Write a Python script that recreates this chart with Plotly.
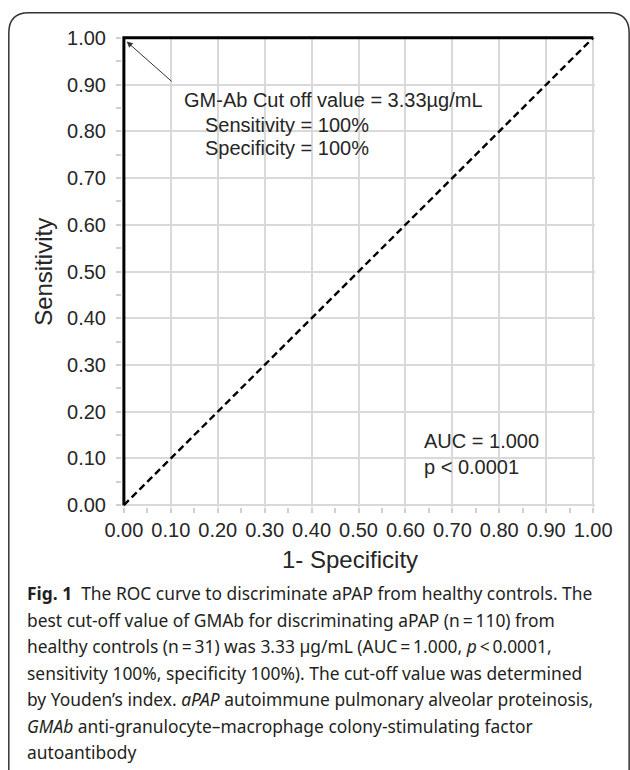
import plotly.graph_objects as go

# ---- data ----
roc_fpr = [0.0, 0.0, 1.0]
roc_tpr = [0.0, 1.0, 1.0]
ref_x = [0.0, 1.0]
ref_y = [0.0, 1.0]
tick_vals = [0.0, 0.1, 0.2, 0.3, 0.4, 0.5, 0.6, 0.7, 0.8, 0.9, 1.0]
tick_text = ["0.00", "0.10", "0.20", "0.30", "0.40", "0.50", "0.60", "0.70", "0.80", "0.90", "1.00"]
cutoff_point = (0.0, 1.0)
cutoff_lines = ["GM-Ab Cut off value = 3.33µg/mL", "Sensitivity = 100%", "Specificity = 100%"]
stat_lines = ["AUC = 1.000", "p < 0.0001"]
caption_lines = [
    "<b>Fig. 1</b>  The ROC curve to discriminate aPAP from healthy controls. The",
    "best cut-off value of GMAb for discriminating aPAP (n\u2009=\u2009110) from",
    "healthy controls (n\u2009=\u200931) was 3.33 µg/mL (AUC\u2009=\u20091.000, <i>p</i>\u2009<\u20090.0001,",
    "sensitivity 100%, specificity 100%). The cut-off value was determined",
    "by Youden’s index. <i>aPAP</i> autoimmune pulmonary alveolar proteinosis,",
    "<i>GMAb</i> anti-granulocyte–macrophage colony-stimulating factor",
    "autoantibody",
]

W, H = 630, 770
L, R, T, B = 124, 593, 38, 505   # pixel positions of data 0 and 1
PAD = 0.004                       # small range padding so edge lines are not clipped
sx = (R - L)
sy = (B - T)


def px(x):
    return (x - L) / (R - L)


def py(y):
    return (B - y) / (B - T)


# plot area in pixels (slightly larger than the 0..1 box)
pl, pr = L - PAD * sx, R + PAD * sx
pt, pb = T - PAD * sy, B + PAD * sy


def ppx(x):
    return (x - pl) / (pr - pl)


def ppy(y):
    return (pb - y) / (pb - pt)


fig = go.Figure()
fig.add_trace(go.Scatter(x=ref_x, y=ref_y, mode="lines",
                         line=dict(color="black", width=2.4, dash="7px,4px"),
                         showlegend=False, hoverinfo="skip"))
fig.add_trace(go.Scatter(x=roc_fpr, y=roc_tpr, mode="lines",
                         line=dict(color="black", width=3),
                         showlegend=False, hoverinfo="skip"))

chart_font = dict(family="Liberation Sans, Arial, sans-serif", size=20, color="#262626")
cap_font = dict(family="Noto Sans, Open Sans, sans-serif", size=17.4, color="#231f20")

ann = []
ann.append(dict(x=cutoff_point[0] + 0.006, y=cutoff_point[1] - 0.008, xref="x", yref="y",
                ax=0.105, ay=0.904, axref="x", ayref="y", text="",
                showarrow=True, arrowhead=2, arrowsize=1.2, arrowwidth=1, arrowcolor="#333"))
ann.append(dict(x=ppx(182), y=ppy(100), xref="paper", yref="paper", text=cutoff_lines[0],
                showarrow=False, xanchor="left", yanchor="middle", font=chart_font))
ann.append(dict(x=ppx(203), y=ppy(125), xref="paper", yref="paper", text=cutoff_lines[1],
                showarrow=False, xanchor="left", yanchor="middle", font=chart_font))
ann.append(dict(x=ppx(203), y=ppy(148), xref="paper", yref="paper", text=cutoff_lines[2],
                showarrow=False, xanchor="left", yanchor="middle", font=chart_font))
ann.append(dict(x=ppx(422), y=ppy(441), xref="paper", yref="paper", text=stat_lines[0],
                showarrow=False, xanchor="left", yanchor="middle", font=chart_font))
ann.append(dict(x=ppx(422), y=ppy(467), xref="paper", yref="paper", text=stat_lines[1],
                showarrow=False, xanchor="left", yanchor="middle", font=chart_font))
ann.append(dict(x=ppx(43), y=ppy(272), xref="paper", yref="paper", text="Sensitivity",
                textangle=-90, showarrow=False, xanchor="center", yanchor="middle",
                font=dict(family="Liberation Sans, Arial, sans-serif", size=24, color="#262626")))
ann.append(dict(x=ppx(350), y=ppy(559), xref="paper", yref="paper", text="1- Specificity",
                showarrow=False, xanchor="center", yanchor="middle",
                font=dict(family="Liberation Sans, Arial, sans-serif", size=24, color="#262626")))
cap_y = [593, 619.5, 646, 672.5, 699, 725.5, 752]
for line, yy in zip(caption_lines, cap_y):
    ann.append(dict(x=ppx(25), y=ppy(yy), xref="paper", yref="paper", text=line,
                    showarrow=False, xanchor="left", yanchor="middle", font=cap_font))

# rounded frame
x0, x1 = ppx(9), ppx(629)
yt, yb = ppy(13), ppy(790)
rx, ry = 20 / (pr - pl), 20 / (pb - pt)
frame_path = (f"M {x0},{yb} L {x0},{yt - ry} Q {x0},{yt} {x0 + rx},{yt} "
              f"L {x1 - rx},{yt} Q {x1},{yt} {x1},{yt - ry} L {x1},{yb}")

axis_common = dict(range=[-PAD, 1 + PAD], tickvals=tick_vals, ticktext=tick_text,
                   showgrid=True, gridcolor="#d9d9d9", gridwidth=1.5,
                   ticks="outside", ticklen=5, tickcolor="#d0d0d0", tickwidth=1.5,
                   minor=dict(dtick=0.05, tick0=0, ticks="outside", ticklen=5,
                              tickcolor="#d0d0d0", tickwidth=1.5, showgrid=False),
                   showline=False, zeroline=False, tickfont=chart_font, fixedrange=True,
                   layer="below traces")

fig.update_layout(
    width=W, height=H,
    margin=dict(l=pl, r=W - pr, t=pt, b=H - pb, pad=0),
    paper_bgcolor="white", plot_bgcolor="white",
    xaxis=dict(**axis_common),
    yaxis=dict(**axis_common, ticklabelstandoff=6),
    annotations=ann,
    shapes=[dict(type="path", path=frame_path, xref="paper", yref="paper",
                 line=dict(color="#333333", width=1.5), layer="above")],
)

fig.write_html("out.html")
